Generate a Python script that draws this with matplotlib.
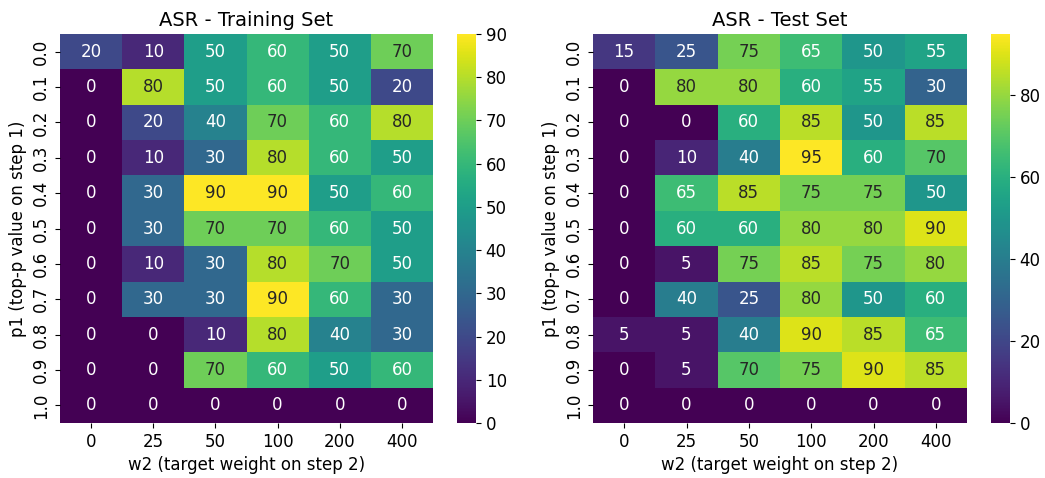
import numpy as np
import pandas as pd
import seaborn as sns
import matplotlib
matplotlib.use("Agg")
import matplotlib.pyplot as plt

w2_values = [0, 25, 50, 100, 200, 400]
p1_values = ["0.0", "0.1", "0.2", "0.3", "0.4", "0.5", "0.6", "0.7", "0.8", "0.9", "1.0"]

asr_train = [
    [20, 10, 50, 60, 50, 70],
    [0, 80, 50, 60, 50, 20],
    [0, 20, 40, 70, 60, 80],
    [0, 10, 30, 80, 60, 50],
    [0, 30, 90, 90, 50, 60],
    [0, 30, 70, 70, 60, 50],
    [0, 10, 30, 80, 70, 50],
    [0, 30, 30, 90, 60, 30],
    [0, 0, 10, 80, 40, 30],
    [0, 0, 70, 60, 50, 60],
    [0, 0, 0, 0, 0, 0],
]

asr_test = [
    [15, 25, 75, 65, 50, 55],
    [0, 80, 80, 60, 55, 30],
    [0, 0, 60, 85, 50, 85],
    [0, 10, 40, 95, 60, 70],
    [0, 65, 85, 75, 75, 50],
    [0, 60, 60, 80, 80, 90],
    [0, 5, 75, 85, 75, 80],
    [0, 40, 25, 80, 50, 60],
    [5, 5, 40, 90, 85, 65],
    [0, 5, 70, 75, 90, 85],
    [0, 0, 0, 0, 0, 0],
]

train_df = pd.DataFrame(asr_train, index=p1_values, columns=w2_values)
test_df = pd.DataFrame(asr_test, index=p1_values, columns=w2_values)

W, H = 1045, 478
fig = plt.figure(figsize=(W / 100, H / 100), dpi=100)

def box(x0, x1, y0=34, y1=423):
    return [x0 / W, 1 - y1 / H, (x1 - x0) / W, (y1 - y0) / H]

panels = [
    (train_df, "ASR - Training Set", box(60, 433), box(457, 476)),
    (test_df, "ASR - Test Set", box(593, 967), box(991, 1010)),
]

for df, title, ax_box, cb_box in panels:
    ax = fig.add_axes(ax_box)
    cax = fig.add_axes(cb_box)
    sns.heatmap(df, annot=True, fmt="d", cmap="viridis", ax=ax, cbar_ax=cax,
                annot_kws={"size": 12})
    ax.set_title(title, fontsize=14)
    ax.set_xlabel("w2 (target weight on step 2)", fontsize=12)
    ax.set_ylabel("p1 (top-p value on step 1)", fontsize=12)
    ax.tick_params(labelsize=12)
    plt.setp(ax.get_yticklabels(), rotation=90, va="center")
    plt.setp(ax.get_xticklabels(), rotation=0)
    cax.tick_params(labelsize=12)

plt.savefig("out.png")
